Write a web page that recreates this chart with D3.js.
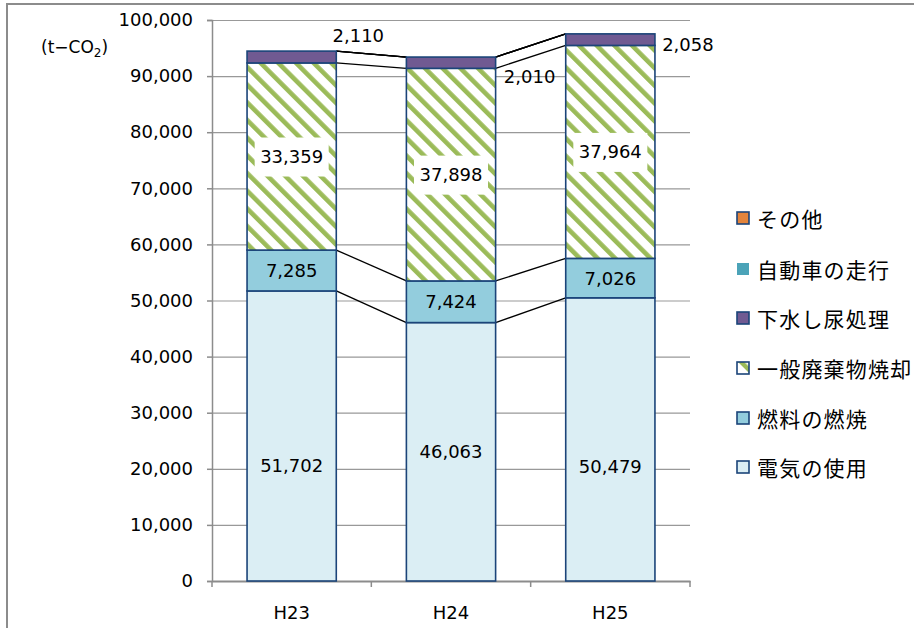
<!DOCTYPE html>
<html>
<head>
<meta charset="utf-8">
<script src="https://cdn.jsdelivr.net/npm/d3@7"></script>
<style>
  html, body { margin: 0; padding: 0; background: #fff; }
  svg { display: block; }
  text { font-family: "DejaVu Sans", "Noto Sans CJK JP", sans-serif; fill: #000; }
  .jp { font-family: "Noto Sans CJK JP", sans-serif; }
</style>
</head>
<body>
<svg id="chart" width="914" height="628"></svg>
<script>
// Fiscal years
const years = ["H23", "H24", "H25"];

// Emission sources, bottom to top of each stack
const sources = ["電気の使用", "燃料の燃焼", "一般廃棄物焼却", "下水し尿処理", "自動車の走行", "その他"];

// Emissions by source (t-CO2)
const electricity = [51702, 46063, 50479];
const fuel        = [7285, 7424, 7026];
const waste       = [33359, 37898, 37964];
const sewage      = [2110, 2010, 2058];
const vehicles    = [0, 0, 0];
const other       = [0, 0, 0];

// Y axis tick values
const yTicks = [0, 10000, 20000, 30000, 40000, 50000, 60000, 70000, 80000, 90000, 100000];

const seriesValues = [electricity, fuel, waste, sewage, vehicles, other];
const rows = years.map((y, i) => {
  const r = { year: y };
  sources.forEach((s, k) => { r[s] = seriesValues[k][i]; });
  return r;
});

const colors = {
  "電気の使用": "#DBEEF4",
  "燃料の燃焼": "#93CDDD",
  "一般廃棄物焼却": "url(#hatch)",
  "下水し尿処理": "#705A92",
  "自動車の走行": "#4BA3B8",
  "その他": "#E3843C"
};
const outline = "#1B4479";

const svg = d3.select("#chart");

// Hatch pattern for incinerated waste
const defs = svg.append("defs");
const pat = defs.append("pattern")
  .attr("id", "hatch")
  .attr("patternUnits", "userSpaceOnUse")
  .attr("width", 12.5).attr("height", 12.5)
  .attr("patternTransform", "rotate(-45)");
pat.append("rect").attr("width", 12.5).attr("height", 12.5).attr("fill", "#fff");
pat.append("rect").attr("x", 0).attr("y", 0).attr("width", 4.6).attr("height", 12.5).attr("fill", "#9BBB59");

const legendPat = defs.append("pattern")
  .attr("id", "hatchLegend")
  .attr("patternUnits", "userSpaceOnUse")
  .attr("width", 14).attr("height", 14)
  .attr("patternTransform", "rotate(-45)");
legendPat.append("rect").attr("width", 14).attr("height", 14).attr("fill", "#fff");
legendPat.append("rect").attr("x", 5).attr("width", 4.5).attr("height", 14).attr("fill", "#9BBB59");

// Outer frame
svg.append("rect")
  .attr("x", 7).attr("y", 4).attr("width", 920).attr("height", 640)
  .attr("fill", "none").attr("stroke", "#8c8c8c").attr("stroke-width", 2);

const plot = { left: 212, right: 690, top: 20, bottom: 581 };

const x = d3.scaleBand().domain(years).range([plot.left, plot.right]).padding(0);
const y = d3.scaleLinear().domain([0, 100000]).range([plot.bottom, plot.top]);
const barW = x.bandwidth() * 0.56;
const barX = d => x(d) + (x.bandwidth() - barW) / 2;

// Gridlines
svg.append("g").selectAll("line")
  .data(yTicks.filter(t => t > 0))
  .join("line")
  .attr("x1", plot.left).attr("x2", plot.right)
  .attr("y1", d => y(d) + 0.5).attr("y2", d => y(d) + 0.5)
  .attr("stroke", "#999").attr("stroke-width", 1.2);

// Y axis
const yAxis = svg.append("g")
  .attr("transform", `translate(${plot.left},0)`)
  .call(d3.axisLeft(y).tickValues(yTicks).tickFormat(d3.format(",")).tickSize(5).tickPadding(14));
yAxis.selectAll("line, path").attr("stroke", "#8c8c8c").attr("stroke-width", 1.5);
yAxis.selectAll("text").attr("font-size", 18).attr("fill", "#000")
  .style("font-family", '"DejaVu Sans", sans-serif');

// X axis
const xAxis = svg.append("g")
  .attr("transform", `translate(0,${plot.bottom})`)
  .call(d3.axisBottom(x).tickSize(0).tickPadding(25));
xAxis.select("path").attr("stroke", "#8c8c8c").attr("stroke-width", 2);
xAxis.selectAll("text").attr("font-size", 18).attr("fill", "#000")
  .style("font-family", '"DejaVu Sans", sans-serif');
// category boundary ticks
svg.append("g").selectAll("line")
  .data(years.map(d => x(d)).concat([plot.right]))
  .join("line")
  .attr("x1", d => d).attr("x2", d => d)
  .attr("y1", plot.bottom).attr("y2", plot.bottom + 6)
  .attr("stroke", "#8c8c8c").attr("stroke-width", 1.5);

// Stacked layers
const stack = d3.stack().keys(sources)(rows);

// Series lines connecting the layer tops between adjacent bars
const seriesLines = [];
stack.forEach(layer => {
  for (let i = 0; i < years.length - 1; i++) {
    seriesLines.push({
      x1: barX(years[i]) + barW, y1: y(layer[i][1]),
      x2: barX(years[i + 1]),   y2: y(layer[i + 1][1])
    });
  }
});
svg.append("g").selectAll("line")
  .data(seriesLines)
  .join("line")
  .attr("x1", d => d.x1).attr("y1", d => d.y1)
  .attr("x2", d => d.x2).attr("y2", d => d.y2)
  .attr("stroke", "#000").attr("stroke-width", 1.3);

svg.append("g").selectAll("g")
  .data(stack)
  .join("g")
  .attr("fill", d => colors[d.key])
  .selectAll("rect")
  .data(d => d.filter(s => s[1] - s[0] > 0))
  .join("rect")
  .attr("x", d => barX(d.data.year))
  .attr("y", d => y(d[1]))
  .attr("width", barW)
  .attr("height", d => y(d[0]) - y(d[1]))
  .attr("stroke", outline).attr("stroke-width", 1.6);

// Value labels
const fmt = d3.format(",");
const labelFont = 18;

// electricity labels (lowered slightly in the first and last bars)
const elecShift = [30, 0, 27];
stack[0].forEach((s, i) => {
  svg.append("text")
    .attr("x", barX(years[i]) + barW / 2)
    .attr("y", (y(s[0]) + y(s[1])) / 2 + elecShift[i])
    .attr("text-anchor", "middle").attr("dominant-baseline", "central")
    .attr("font-size", labelFont)
    .text(fmt(s[1] - s[0]));
});

// fuel labels
stack[1].forEach((s, i) => {
  svg.append("text")
    .attr("x", barX(years[i]) + barW / 2)
    .attr("y", (y(s[0]) + y(s[1])) / 2)
    .attr("text-anchor", "middle").attr("dominant-baseline", "central")
    .attr("font-size", labelFont)
    .text(fmt(s[1] - s[0]));
});

// waste labels on white boxes
stack[2].forEach((s, i) => {
  const cx = barX(years[i]) + barW / 2;
  const cy = (y(s[0]) + y(s[1])) / 2;
  svg.append("rect")
    .attr("x", cx - 37).attr("y", cy - 19).attr("width", 74).attr("height", 39)
    .attr("fill", "#fff");
  svg.append("text")
    .attr("x", cx).attr("y", cy)
    .attr("text-anchor", "middle").attr("dominant-baseline", "central")
    .attr("font-size", labelFont)
    .text(fmt(s[1] - s[0]));
});

// sewage labels placed beside the thin top segment
const sewageOffset = [[22, -16], [34, 19], [33, 11]];
stack[3].forEach((s, i) => {
  svg.append("text")
    .attr("x", barX(years[i]) + barW + sewageOffset[i][0])
    .attr("y", y(s[1]) + sewageOffset[i][1])
    .attr("text-anchor", "middle").attr("dominant-baseline", "central")
    .attr("font-size", labelFont)
    .text(fmt(s[1] - s[0]));
});

// Unit label
const unit = svg.append("text").attr("x", 41).attr("y", 53).attr("font-size", 17);
unit.append("tspan").text("(t−CO");
unit.append("tspan").attr("font-size", 12).attr("dy", 4).text("2");
unit.append("tspan").attr("dy", -4).text(")");

// Legend, top entry is the last stacked series
const legendY = [218, 269, 318, 368, 418, 467];
const legendItems = sources.slice().reverse();
const lg = svg.append("g").selectAll("g")
  .data(legendItems)
  .join("g")
  .attr("transform", (d, i) => `translate(737,${legendY[i]})`);
lg.append("rect")
  .attr("x", 0).attr("y", -6).attr("width", 12).attr("height", 12)
  .attr("fill", d => d === "一般廃棄物焼却" ? "url(#hatchLegend)" : colors[d])
  .attr("stroke", d => d === "自動車の走行" ? "none" : outline)
  .attr("stroke-width", 1.6);
lg.append("text")
  .attr("class", "jp")
  .attr("x", 20).attr("y", 0)
  .attr("dominant-baseline", "central")
  .attr("font-size", 21).attr("letter-spacing", 1.2)
  .text(d => d);
</script>
</body>
</html>
